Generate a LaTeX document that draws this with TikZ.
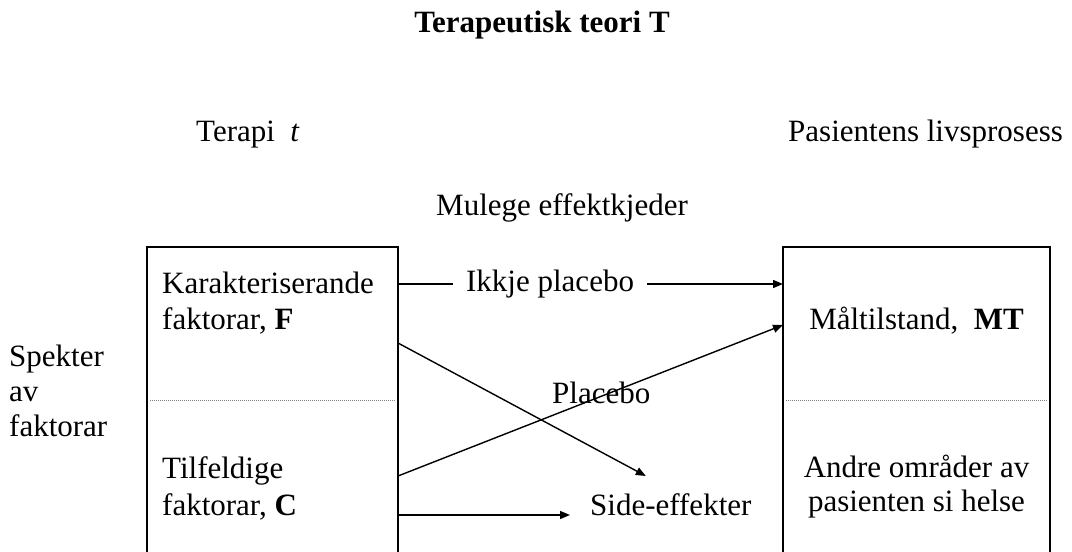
\documentclass[tikz,border=0pt]{standalone}
\usepackage{fontspec}
\setmainfont{Liberation Serif}
\usetikzlibrary{arrows.meta}

\begin{document}
\begin{tikzpicture}[
	x=1pt, y=-1pt,
	every node/.style={font=\fontsize{31}{35}\selectfont, inner sep=0pt},
	box/.style={
		draw, line width=2pt, rectangle, outer sep=0pt,
		anchor=north, minimum height=330pt
	},
	txt/.style={anchor=base west},
	mid/.style={anchor=base},
	sep/.style={draw=gray, line width=0.8pt, dash pattern=on 1pt off 1pt},
	arr/.style={-{Triangle[length=10pt,width=8pt]}, line width=1.4pt},
	lbl/.style={fill=white, inner xsep=13pt},
	]
	
	\useasboundingbox (0,0) rectangle (1072,552);
	\clip (0,0) rectangle (1072,552);
	
	% headings
	\node[mid, font=\fontsize{31}{35}\selectfont\bfseries] (title) at (542,32) {Terapeutisk teori T};
	\node[txt] (terapi) at (196,141) {Terapi~ \textit{t}};
	\node[txt] (livs)   at (788,141) {Pasientens livsprosess};
	\node[mid] (kjeder) at (562,215) {Mulege effektkjeder};
	
	% the two boxes, open at the bottom
	\node[box, minimum width=251pt] (fbox) at (272.5,247) {};
	\node[box, minimum width=267pt] (pbox) at (916.5,247) {};
	\draw[sep] ([xshift=3pt,yshift=-153pt]fbox.north west) -- ([xshift=-3pt,yshift=-153pt]fbox.north east);
	\draw[sep] ([xshift=3pt,yshift=-153pt]pbox.north west) -- ([xshift=-3pt,yshift=-153pt]pbox.north east);
	
	\node[txt] (kar)  at (162,293) {Karakteriserande};
	\node[txt] (fakF) at (162,329) {faktorar, \textbf{F}};
	\node[txt] (til)  at (162,478) {Tilfeldige};
	\node[txt] (fakC) at (162,515) {faktorar, \textbf{C}};
	
	\node[mid] (mal)   at (916.5,329) {Måltilstand,~ \textbf{MT}};
	\node[mid] (andre) at (916.5,477) {Andre områder av};
	\node[mid] (helse) at (916.5,511) {pasienten si helse};
	
	% side labels
	\node[txt] (spek) at (9,366) {Spekter};
	\node[txt] (av)   at (9,401) {av};
	\node[txt] (fak)  at (9,436) {faktorar};
	
	\node[txt] (side)    at (590,515) {Side-effekter};
	\node[txt] (placebo) at (552,403) {Placebo};
	
	% effect chains
	\draw[arr] ([yshift=-37pt]fbox.north east) -- node[lbl, pos=0.395] {Ikkje placebo} ([yshift=-37pt]pbox.north west);
	\draw[arr] ([yshift=-96pt]fbox.north east) -- ([xshift=-25pt,yshift=17pt]side.north);
	\draw[arr] ([yshift=-229pt]fbox.north east) -- ([yshift=-78pt]pbox.north west);
	\draw[arr] ([yshift=-268pt]fbox.north east) -- ([xshift=-20pt]side.base west);
	
\end{tikzpicture}
\end{document}
